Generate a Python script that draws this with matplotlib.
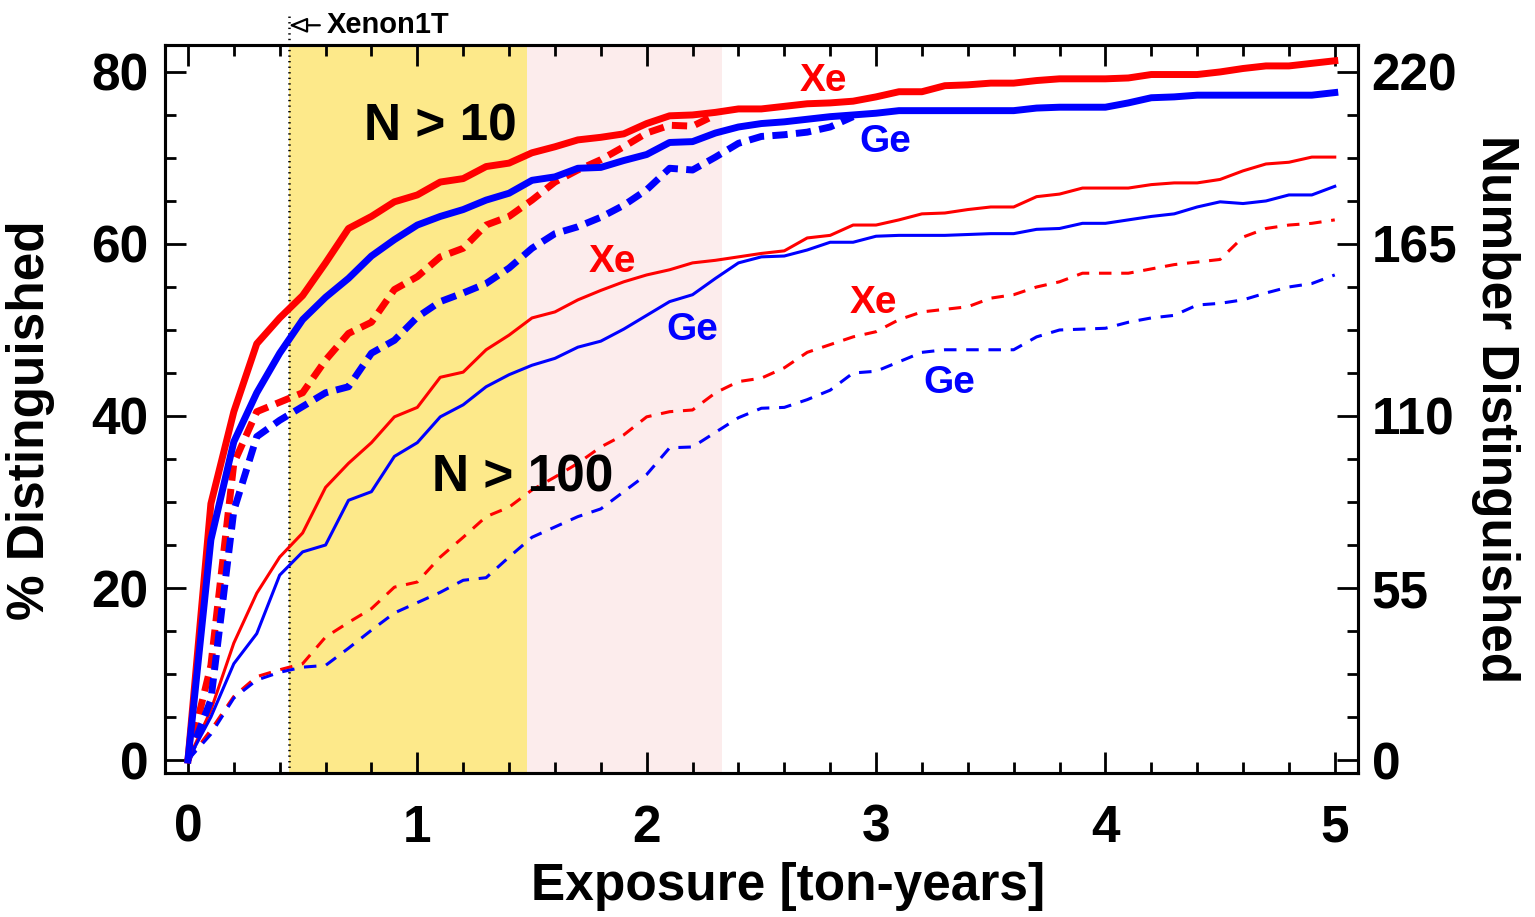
import numpy as np
import matplotlib
matplotlib.use("Agg")
import matplotlib.pyplot as plt
from matplotlib.ticker import MultipleLocator
import matplotlib.transforms as mtransforms

# exposure grid [ton-years]
exposure = np.linspace(0, 5, 51)

# % distinguished, N > 10 (thick) and N > 100 (thin)
xe_n10 = [0, 29.8, 40.5, 48.4, 51.4, 54.0, 57.8, 61.8, 63.2, 64.9, 65.7, 67.2, 67.6, 69.0, 69.4,
          70.6, 71.3, 72.1, 72.4, 72.8, 74.0, 74.9, 75.0, 75.3, 75.7, 75.7, 76.0, 76.3, 76.4, 76.6,
          77.1, 77.7, 77.7, 78.4, 78.5, 78.7, 78.7, 79.0, 79.2, 79.2, 79.2, 79.3, 79.7, 79.7, 79.7,
          80.0, 80.4, 80.7, 80.7, 81.0, 81.3]
ge_n10 = [0, 25.6, 37.0, 42.7, 47.3, 51.2, 53.8, 56.0, 58.6, 60.5, 62.2, 63.2, 64.0, 65.1, 65.9,
          67.4, 67.8, 68.8, 68.9, 69.7, 70.4, 71.8, 71.9, 72.9, 73.6, 74.0, 74.2, 74.5, 74.8, 75.0,
          75.2, 75.5, 75.5, 75.5, 75.5, 75.5, 75.5, 75.8, 75.9, 75.9, 75.9, 76.4, 77.0, 77.1, 77.3,
          77.3, 77.3, 77.3, 77.3, 77.3, 77.6]
xe_n10_dash = [0, 11.0, 34.5, 40.5, 41.6, 42.7, 46.5, 49.6, 50.9, 54.7, 56.2, 58.5, 59.5, 62.2,
               63.2, 65.1, 67.2, 68.6, 69.8, 71.3, 72.9, 73.8, 73.7, 75.0]
ge_n10_dash = [0, 7.0, 29.0, 37.6, 39.5, 41.1, 42.7, 43.4, 47.3, 48.8, 51.5, 53.3, 54.3, 55.4,
               57.2, 59.5, 61.2, 62.0, 63.1, 64.5, 66.3, 68.8, 68.6, 70.1, 71.7, 72.5, 72.7, 73.0,
               73.6, 74.8]
xe_n100 = [0, 5.8, 13.6, 19.4, 23.6, 26.4, 31.7, 34.5, 36.9, 39.9, 41.0, 44.5, 45.1, 47.7, 49.4,
           51.4, 52.1, 53.5, 54.6, 55.6, 56.4, 57.0, 57.8, 58.1, 58.5, 58.9, 59.2, 60.7, 61.0, 62.2,
           62.2, 62.8, 63.5, 63.6, 64.0, 64.3, 64.3, 65.5, 65.8, 66.5, 66.5, 66.5, 66.9, 67.1, 67.1,
           67.5, 68.5, 69.3, 69.5, 70.1, 70.1]
ge_n100 = [0, 5.0, 11.2, 14.7, 21.5, 24.2, 25.0, 30.2, 31.2, 35.3, 36.9, 39.9, 41.3, 43.4, 44.8,
           45.9, 46.7, 48.0, 48.7, 50.1, 51.7, 53.3, 54.1, 56.0, 57.8, 58.5, 58.6, 59.3, 60.2, 60.2,
           60.9, 61.0, 61.0, 61.0, 61.1, 61.2, 61.2, 61.7, 61.8, 62.4, 62.4, 62.8, 63.2, 63.5, 64.3,
           64.9, 64.7, 65.0, 65.7, 65.7, 66.7]
xe_n100_dash = [0, 3.5, 7.4, 9.7, 10.5, 11.2, 14.3, 16.0, 17.6, 20.1, 20.7, 23.6, 25.9, 28.3, 29.4,
                31.4, 32.9, 34.5, 36.4, 37.8, 39.9, 40.5, 40.7, 42.7, 44.0, 44.4, 45.6, 47.4, 48.3,
                49.2, 49.8, 51.2, 52.1, 52.4, 52.7, 53.7, 54.1, 55.0, 55.6, 56.6, 56.6, 56.6, 57.1,
                57.6, 57.9, 58.2, 60.8, 61.8, 62.2, 62.4, 62.8]
ge_n100_dash = [0, 3.0, 7.2, 9.3, 10.2, 10.8, 11.0, 13.0, 15.1, 17.1, 18.3, 19.5, 20.9, 21.2, 23.6,
                25.9, 27.1, 28.3, 29.2, 31.2, 33.2, 36.3, 36.4, 38.1, 39.8, 40.9, 41.0, 41.9, 43.0,
                45.0, 45.2, 46.3, 47.4, 47.7, 47.7, 47.7, 47.7, 49.2, 50.0, 50.1, 50.2, 50.9, 51.4,
                51.7, 52.9, 53.1, 53.5, 54.3, 55.0, 55.4, 56.4]

xenon1t = 0.44
band_yellow = (0.44, 1.48)
band_pink = (1.48, 2.33)
n_total = 275  # 80 % <-> 220

plt.rcParams['font.family'] = ['Liberation Sans', 'DejaVu Sans']
plt.rcParams['font.weight'] = 'bold'
plt.rcParams['axes.labelweight'] = 'bold'
plt.rcParams['lines.scale_dashes'] = False

fig = plt.figure(figsize=(15.35, 9.17), dpi=100)
ax = fig.add_axes([0.1075, 0.157, 0.777, 0.794])

ax.axvspan(*band_yellow, color='#fde98a', lw=0, zorder=0)
ax.axvspan(*band_pink, color='#fcecec', lw=0, zorder=0)

thick, thin = 5.0, 2.2
ax.plot(exposure, xe_n100, color='red', lw=thin)
ax.plot(exposure, ge_n100, color='blue', lw=thin)
ax.plot(exposure, xe_n100_dash, color='red', lw=thin, dashes=(9, 7))
ax.plot(exposure, ge_n100_dash, color='blue', lw=thin, dashes=(9, 7))
ax.plot(exposure[:len(xe_n10_dash)], xe_n10_dash, color='red', lw=thick, dashes=(11, 6))
ax.plot(exposure[:len(ge_n10_dash)], ge_n10_dash, color='blue', lw=thick, dashes=(11, 6))
ax.plot(exposure, xe_n10, color='red', lw=thick)
ax.plot(exposure, ge_n10, color='blue', lw=thick)

# Xenon1T marker
trans = mtransforms.blended_transform_factory(ax.transData, ax.transAxes)
ax.plot([xenon1t, xenon1t], [0, 1.04], transform=trans, color='black', lw=1.8,
        ls=(0, (1, 3)), clip_on=False, zorder=1)
ax.annotate('', xy=(xenon1t, 1.027), xytext=(xenon1t + 0.135, 1.027),
            xycoords=trans, textcoords=trans,
            arrowprops=dict(arrowstyle='-|>,head_length=1.1,head_width=0.45',
                            fc='white', ec='black', lw=1.6, shrinkA=0, shrinkB=0))
ax.text(0.606, 1.027, 'Xenon1T', transform=trans, fontsize=21, va='center', ha='left')

ax.text(1.10, 73.6, 'N > 10', fontsize=37, ha='center', va='center')
ax.text(1.46, 32.8, 'N > 100', fontsize=37, ha='center', va='center')
ax.text(2.77, 79.0, 'Xe', color='red', fontsize=28, ha='center', va='center')
ax.text(3.04, 71.9, 'Ge', color='blue', fontsize=28, ha='center', va='center')
ax.text(1.85, 57.9, 'Xe', color='red', fontsize=28, ha='center', va='center')
ax.text(2.20, 50.0, 'Ge', color='blue', fontsize=28, ha='center', va='center')
ax.text(2.99, 53.1, 'Xe', color='red', fontsize=28, ha='center', va='center')
ax.text(3.32, 43.8, 'Ge', color='blue', fontsize=28, ha='center', va='center')

ylim = (-1.51, 83.14)
ax.set_xlim(-0.1, 5.1)
ax.set_ylim(*ylim)
ax.xaxis.set_major_locator(MultipleLocator(1))
ax.xaxis.set_minor_locator(MultipleLocator(0.2))
ax.yaxis.set_major_locator(MultipleLocator(20))
ax.yaxis.set_minor_locator(MultipleLocator(5))
ax.tick_params(which='both', direction='in', width=2, top=True, right=False,
               labelsize=37)
ax.tick_params(which='major', length=15)
ax.tick_params(which='minor', length=8)
ax.tick_params(axis='x', pad=22)
ax.tick_params(axis='y', pad=12)
for s in ax.spines.values():
    s.set_linewidth(2.2)

ax2 = ax.twinx()
ax2.set_ylim(ylim[0] * n_total / 100, ylim[1] * n_total / 100)
ax2.yaxis.set_major_locator(MultipleLocator(55))
ax2.yaxis.set_minor_locator(MultipleLocator(13.75))
ax2.tick_params(which='both', direction='in', width=2, labelsize=37, pad=10)
ax2.tick_params(which='major', length=15)
ax2.tick_params(which='minor', length=8)
for s in ax2.spines.values():
    s.set_linewidth(2.2)

ax.set_xlabel('Exposure [ton-years]', fontsize=37)
ax.xaxis.set_label_coords(0.522, -0.122)
ax.set_ylabel('% Distinguished', fontsize=37)
ax.yaxis.set_label_coords(-0.092, 0.485)
ax2.set_ylabel('Number Distinguished', fontsize=37, rotation=270, labelpad=45)

fig.savefig('out.png', dpi=100)
